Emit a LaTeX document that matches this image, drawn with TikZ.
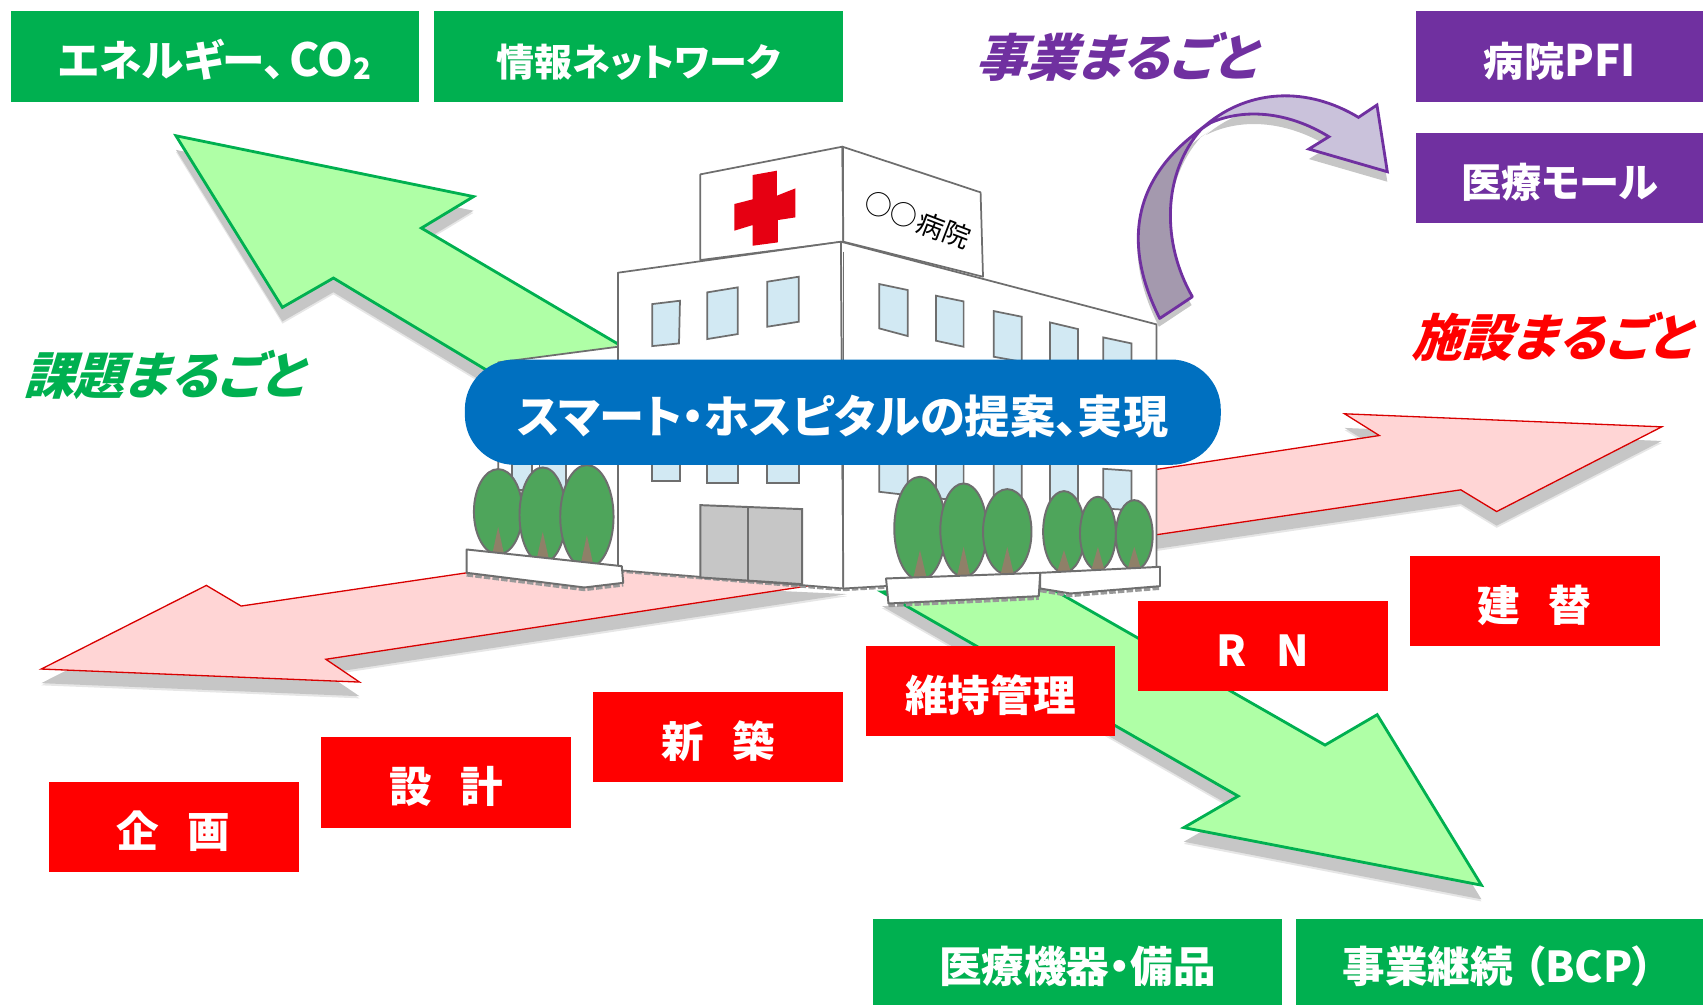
\documentclass[tikz,border=0pt]{standalone}
\usepackage{fontspec}
\newfontfamily\jpb[RawFeature=+palt]{Noto Sans CJK JP Black}
\newfontfamily\jpr[RawFeature=+palt]{Noto Sans CJK JP}
\newfontfamily\jpit[FakeSlant=0.3,RawFeature=+palt]{Noto Sans CJK JP Black}
\definecolor{bgreen}{HTML}{00B050}
\definecolor{bpurple}{HTML}{7030A0}
\definecolor{bred}{HTML}{FF0000}
\definecolor{bblue}{HTML}{0070C0}
\definecolor{lgreen}{HTML}{AFFFA6}
\definecolor{lpink}{HTML}{FFD5D5}
\definecolor{shad}{HTML}{C6C6C6}
\definecolor{shadl}{HTML}{E6E6E6}
\definecolor{line}{HTML}{6E6E6E}
\definecolor{win}{HTML}{D2E9F3}
\definecolor{tree}{HTML}{4EA55B}
\definecolor{trunk}{HTML}{8F8068}
\definecolor{crossred}{HTML}{E60012}
\definecolor{curvedark}{HTML}{A499AE}
\definecolor{curvelight}{HTML}{CAC2DB}
\tikzset{
 lab/.style={text=white,font=\jpb\fontsize{19.6}{20}\selectfont,inner sep=0pt,anchor=center,text height=21pt,text depth=2.2pt},
 boxg/.style={fill=bgreen},
 boxp/.style={fill=bpurple},
 boxr/.style={fill=bred},
 title/.style={font=\jpit\fontsize{23.3}{26}\selectfont,inner sep=0pt},
 garrow/.style={fill=lgreen,draw=bgreen,line width=1.3pt,line join=miter},
 parrow/.style={fill=lpink,draw=red!85!black,line width=.6pt,line join=miter},
 wall/.style={fill=white,draw=line,line width=.8pt,line join=round},
 window/.style={fill=win,draw=line,line width=.8pt},
 planter/.style={fill=white,draw=line,line width=.9pt,line join=round},
 fringe/.style={draw=line!70,line width=1.6pt,dash pattern=on 3pt off 1pt},
}
\newcommand\ArrowA{(162,125) -- (436,181) -- (388,210) -- (600,335) -- (480,360) -- (307,256) -- (260,283) -- cycle}
\newcommand\ArrowB{(1364,815) -- (1268,658) -- (1220,686) -- (970,543) -- (812,545) -- (1140,733) -- (1090,762) -- cycle}
\newcommand\ArrowC{(38,616) -- (190,539) -- (222,558) -- (480,520) -- (780,534) -- (300,607) -- (331,628) -- cycle}
\newcommand\ArrowD{(1530,393) -- (1238,381) -- (1270,401) -- (1040,436) -- (1040,496) -- (1345,451) -- (1378,471) -- cycle}
\newcommand\CurveDark{(155,955) .. controls (70,760) and (60,540) .. (285,370) -- (265,385) .. controls (160,520) and (160,730) .. (240,890) -- cycle}
\newcommand\CurveLight{(275,375) .. controls (390,265) and (540,260) .. (672,352) -- (720,315) -- (747,515) -- (543,447) -- (595,410) .. controls (490,335) and (370,320) .. (275,375) -- cycle}
\begin{document}
\begin{tikzpicture}[x=0.5pt,y=-0.5pt]
\useasboundingbox (0,0) rectangle (1568,925.4);
% shadows and block arrows
\foreach \p in {\ArrowA,\ArrowB,\ArrowC,\ArrowD}{
  \fill[shadl,shift={(0,15)}] \p;
  \fill[shad,shift={(0,13)}] \p;
}
\draw[garrow] \ArrowA;
\draw[garrow] \ArrowB;
\draw[parrow] \ArrowC;
\draw[parrow] \ArrowD;
% building
\begin{scope}[shift={(405.1,119.7)},x=0.2232pt,y=-0.1535pt]
  \draw[wall] (120,697) -- (367,650) -- (367,1320) -- (120,1290) -- cycle;
  \draw[window] (148,1000) -- (190,1000) -- (190,1080) -- (148,1080) -- cycle;
  \draw[window] (205,1000) -- (260,1000) -- (260,1080) -- (205,1080) -- cycle;
  \draw[wall] (537,133) -- (830,50) -- (832,335) -- (537,390) -- cycle;
  \draw[wall] (830,50) -- (1115,187) -- (1120,440) -- (832,335) -- cycle;
  \draw[fringe] (367,1322) -- (832,1378) -- (1000,1364);
  \draw[wall] (367,428) -- (827,335) -- (832,1375) -- (367,1320) -- cycle;
  \draw[wall] (827,335) -- (1478,583) -- (1478,1320) -- (832,1375) -- cycle;
  \fill[crossred] (645,135) -- (695,122) -- (695,197) -- (733,175) -- (733,262) -- (697,270) -- (697,337) -- (645,347) -- (645,285) -- (607,302) -- (607,222) -- (645,208) -- cycle;
  % windows, upper floor
  \draw[window] (438,522) -- (495,512) -- (493,640) -- (438,648) -- cycle;
  \draw[window] (551,487) -- (614,472) -- (614,612) -- (551,627) -- cycle;
  \draw[window] (675,455) -- (740,440) -- (740,575) -- (675,590) -- cycle;
  \draw[window] (906,462) -- (965,480) -- (965,618) -- (906,595) -- cycle;
  \draw[window] (1023,497) -- (1080,514) -- (1080,650) -- (1023,632) -- cycle;
  \draw[window] (1142,543) -- (1200,560) -- (1200,695) -- (1142,680) -- cycle;
  \draw[window] (1258,577) -- (1316,597) -- (1316,720) -- (1258,710) -- cycle;
  \draw[window] (1368,622) -- (1426,640) -- (1426,740) -- (1368,730) -- cycle;
  % windows, lower floor
  \draw[window] (438,980) -- (495,980) -- (495,1052) -- (438,1052) -- cycle;
  \draw[window] (551,980) -- (614,980) -- (614,1058) -- (551,1058) -- cycle;
  \draw[window] (675,980) -- (740,980) -- (740,1058) -- (675,1058) -- cycle;
  \draw[window] (906,980) -- (965,980) -- (965,1095) -- (906,1085) -- cycle;
  \draw[window] (1023,980) -- (1080,980) -- (1080,1110) -- (1023,1105) -- cycle;
  \draw[window] (1142,980) -- (1200,980) -- (1200,1120) -- (1142,1115) -- cycle;
  \draw[window] (1258,980) -- (1316,980) -- (1316,1130) -- (1258,1125) -- cycle;
  \draw[window] (1368,1016) -- (1426,1022) -- (1426,1140) -- (1368,1135) -- cycle;
  % door
  \draw[fill=shad,draw=line,line width=.9pt] (537,1125) -- (747,1137) -- (747,1362) -- (537,1342) -- cycle;
  \draw[line,line width=.9pt] (635,1130) -- (635,1352);
  % corner lines
  \draw[line,line width=.8pt] (832,50) -- (832,330) (832,365) -- (832,1375);
  % sign text
  \node[rotate=-21,inner sep=0pt,text=black] (sign) at (985,270) {\jpr\fontsize{12.5}{14}\selectfont ○○\kern1pt\fontsize{12.5}{14}\selectfont 病院};
  % trees
  \foreach \cx/\cy/\rx/\ry/\ay/\by in {120/1145/50/128/1190/1285,212/1155/48/143/1205/1295,303/1160/55/155/1215/1310,
     990/1195/53/155/1260/1345,1080/1200/48/140/1250/1340,1170/1205/50/128/1250/1335,
     1287/1205/43/122/1260/1325,1357/1210/37/110/1250/1322,1432/1215/38/105/1250/1318}{
    \draw[fill=tree,draw=line,line width=.9pt] (\cx,\cy) ellipse[x radius=\rx,y radius=\ry];
    \draw[fill=trunk,draw=none] (\cx,\ay) -- (\cx+14,\by) -- (\cx-14,\by) -- cycle;
  }
  % planters
  \draw[fringe] (55,1334) -- (298,1378) -- (378,1364);
  \draw[fringe] (1238,1381) -- (1300,1396) -- (1485,1374);
  \draw[fringe] (925,1426) -- (1235,1404);
  \draw[planter] (55,1258) -- (375,1308) -- (378,1358) -- (298,1372) -- (55,1328) -- cycle;
  \draw[planter] (1238,1328) -- (1485,1310) -- (1485,1368) -- (1300,1390) -- (1238,1375) -- cycle;
  \draw[planter] (920,1345) -- (1238,1328) -- (1235,1398) -- (925,1420) -- cycle;
\end{scope}
% curved arrow
\begin{scope}[shift={(1012.9,0)},x=0.177pt,y=-0.1535pt]
  \fill[shad,shift={(0,30)}] \CurveLight;
  \fill[shad,shift={(-2,25)}] \CurveDark;
  \draw[fill=curvedark,draw=bpurple,line width=1.3pt,line join=round] \CurveDark;
  \draw[fill=curvelight,draw=bpurple,line width=1.3pt,line join=miter] \CurveLight;
\end{scope}
% centre pill
\node[fill=bblue,rounded corners=23pt,minimum width=348pt,minimum height=48.5pt,inner sep=0pt,text=white,font=\jpb\fontsize{20.8}{24}\selectfont,text height=22pt,text depth=2.5pt] (pill) at (776,379.5) {スマート・ホスピタルの提案、実現};
% titles
\node[title,text=bpurple] (t1) at (1027,52) {事業まるごと};
\node[title,text=bgreen] (t2) at (150,345) {課題まるごと};
\node[title,text=bred] (t3) at (1428,310) {施設まるごと};
% green boxes
\node[boxg,minimum width=188pt,minimum height=42pt,lab] (g1) at (198,52) {エネルギー、\kern2pt{\fontsize{21}{20}\selectfont CO}\raisebox{-.05em}{\fontsize{13.5}{14}\selectfont 2}};
\node[boxg,minimum width=188pt,minimum height=42pt,lab,font=\jpb\fontsize{17.5}{20}\selectfont] (g2) at (588,52) {情報ネットワーク};
\node[boxg,minimum width=188pt,minimum height=39.5pt,lab] (g3) at (992,885.5) {医療機器・備品};
\node[boxg,minimum width=187.5pt,minimum height=39.5pt,lab] (g4) at (1380.5,885.5) {事業継続\kern5pt（BCP）\kern1pt};
% purple boxes
\node[boxp,minimum width=132pt,minimum height=42pt,lab,font=\jpb\fontsize{18.5}{20}\selectfont] (p1) at (1436,52) {病院{\fontsize{20}{20}\selectfont PFI}};
\node[boxp,minimum width=132pt,minimum height=41.5pt,lab,font=\jpb\fontsize{18.5}{20}\selectfont] (p2) at (1436,163.5) {医療モール};
% red boxes
\node[boxr,minimum width=115pt,minimum height=41.5pt,lab] (r1) at (160,761.5) {企\hspace{.67em}画};
\node[boxr,minimum width=115pt,minimum height=41.5pt,lab] (r2) at (411,720.5) {設\hspace{.67em}計};
\node[boxr,minimum width=115pt,minimum height=41.5pt,lab] (r3) at (661,678.5) {新\hspace{.67em}築};
\node[boxr,minimum width=115pt,minimum height=41.5pt,lab] (r4) at (912,636.5) {維持管理};
\node[boxr,minimum width=115pt,minimum height=41.5pt,lab] (r5) at (1163,594.5) {R\hspace{.7em}N};
\node[boxr,minimum width=115pt,minimum height=41.5pt,lab] (r6) at (1413,553.5) {建\hspace{.67em}替};
\end{tikzpicture}
\end{document}
